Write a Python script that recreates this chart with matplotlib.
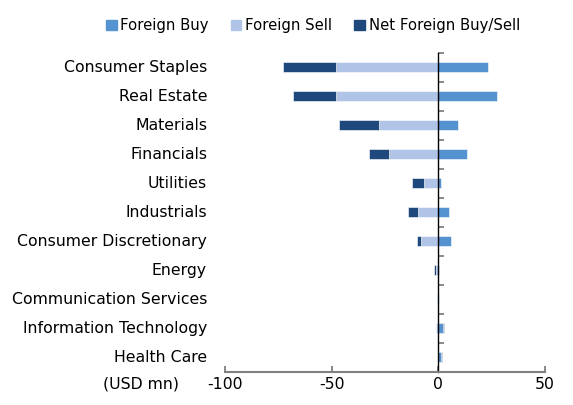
import numpy as np
import matplotlib
matplotlib.use('Agg')
import matplotlib.pyplot as plt
from matplotlib.patches import Patch

# datos (USD mn)
sectores = ['Consumer Staples', 'Real Estate', 'Materials', 'Financials', 'Utilities',
            'Industrials', 'Consumer Discretionary', 'Energy', 'Communication Services',
            'Information Technology', 'Health Care']
compra = [23.4, 27.7, 9.2, 13.6, 1.1, 4.9, 6.1, 0.5, 0.1, 2.0, 1.2]
venta = [-48.1, -48.0, -27.9, -23.1, -6.8, -9.5, -8.0, -1.3, -0.4, -1.2, -0.2]
neto = [-24.7, -20.3, -18.7, -9.5, -5.5, -4.8, -1.8, -0.6, 0.0, 0.6, 0.5]
ticks_x = [-100, -50, 0, 50]

c_compra = '#5592D0'
c_venta = '#AFC4E7'
c_neto = '#1F497D'

plt.rcParams['font.family'] = 'DejaVu Sans'
fs = 11.3

fig = plt.figure(figsize=(5.73, 4.05), dpi=100)
ax = fig.add_axes([225 / 573, 1 - 371.7 / 405, 320 / 573, 319 / 405])

y = np.arange(len(sectores))
alto = 0.33
# neto se apila afuera: negativo a la izquierda de la venta, positivo a la derecha de la compra
base_neto = [v if n < 0 else c for c, v, n in zip(compra, venta, neto)]

ax.barh(y, compra, height=alto, color=c_compra, edgecolor='white', linewidth=0.4)
ax.barh(y, venta, height=alto, color=c_venta, edgecolor='white', linewidth=0.4)
ax.barh(y, neto, left=base_neto, height=alto, color=c_neto, edgecolor='white', linewidth=0.4)

ax.set_xlim(-100, 50)
ax.set_ylim(len(sectores) - 0.5, -0.5)

for s in ['top', 'right']:
    ax.spines[s].set_visible(False)
ax.spines['left'].set_position(('data', 0))
ax.spines['left'].set_color('black')
ax.spines['left'].set_linewidth(1.0)
ax.spines['bottom'].set_color('#808080')
ax.spines['bottom'].set_linewidth(1.5)

ax.set_xticks(ticks_x)
ax.set_xticklabels([str(t) for t in ticks_x], fontsize=fs)
ax.tick_params(axis='x', direction='in', length=4.5, width=1.3, color='#808080', pad=4)

# ticks del eje y entre categorias, hacia la derecha
ax.set_yticks(np.arange(-0.5, len(sectores), 1.0))
ax.set_yticklabels([])
ax.tick_params(axis='y', direction='in', length=4.5, width=1.3, color='#808080')

trans = ax.get_yaxis_transform()
for i, nombre in enumerate(sectores):
    ax.text(-0.056, i, nombre, transform=trans, ha='right', va='center', fontsize=fs)

fig.text(141 / 573, 1 - 384 / 405, '(USD mn)', ha='center', va='center', fontsize=fs)

manijas = [Patch(color=c_compra, label='Foreign Buy'),
           Patch(color=c_venta, label='Foreign Sell'),
           Patch(color=c_neto, label='Net Foreign Buy/Sell')]
fig.legend(handles=manijas, loc='center', bbox_to_anchor=(313 / 573, 1 - 25.7 / 405), ncol=3,
           frameon=False, fontsize=10.7, handlelength=0.7, handleheight=0.7,
           handletextpad=0.25, columnspacing=1.5, borderpad=0)

fig.savefig('out.png', dpi=100)
